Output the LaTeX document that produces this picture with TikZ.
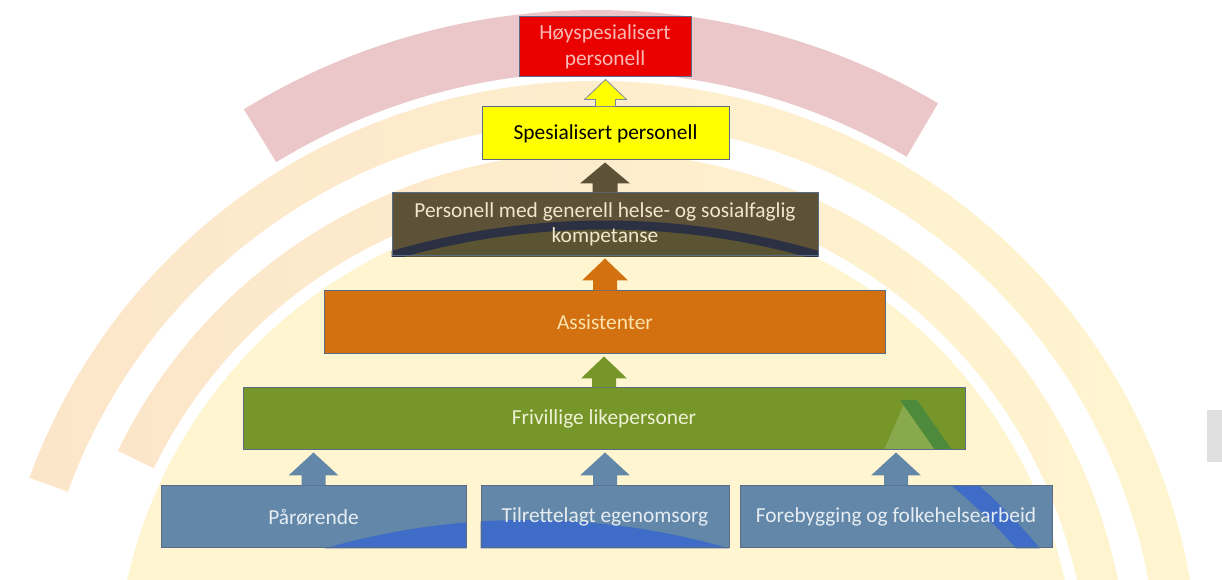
\documentclass[tikz,border=0pt]{standalone}
\usepackage{fontspec}
\setmainfont{Carlito}
\usepackage{tikz}
\usetikzlibrary{calc,backgrounds}
\definecolor{PyrRed}{HTML}{EB0000}
\definecolor{PyrRedText}{HTML}{F7B9B5}
\definecolor{PyrYellow}{HTML}{FFFF00}
\definecolor{PyrDark}{HTML}{5D5138}
\definecolor{PyrDarkLow}{HTML}{5A5433}
\definecolor{PyrDarkText}{HTML}{F1E7CB}
\definecolor{PyrOrange}{HTML}{D3700F}
\definecolor{PyrOrangeText}{HTML}{FBE3AE}
\definecolor{PyrGreen}{HTML}{76962A}
\definecolor{PyrGreenText}{HTML}{EFF1D6}
\definecolor{PyrBlue}{HTML}{6287A9}
\definecolor{PyrBlueText}{HTML}{E6EDF2}
\definecolor{PyrLine}{HTML}{5A6B86}
\definecolor{PyrGrey}{HTML}{E0E0E0}
\definecolor{BowPink}{HTML}{EBC7CA}
\definecolor{BowPeach}{HTML}{FCE6CA}
\definecolor{BowCream}{HTML}{FFF5D0}
\definecolor{BowNavy}{HTML}{2B3142}
\definecolor{BowLeaf}{HTML}{4E8A3B}
\definecolor{BowLime}{HTML}{88AA4C}
\definecolor{BowSky}{HTML}{3E6CC6}

\tikzset{
  tier/.style={draw=PyrLine,line width=1pt,minimum height=62pt,inner sep=2pt,
    align=center,font=\fontsize{21.4}{25.5}\selectfont},
}

% band of the rainbow: options, centre, from, to, inner radius, outer radius
\newcommand\bowband[6]{%
  \path[#1] ([shift={(#3:#6)}]#2) arc[start angle=#3,end angle=#4,radius=#6]
    -- ([shift={(#4:#5)}]#2) arc[start angle=#4,end angle=#3,radius=#5] -- cycle;}

% fat arrow up: options, lower box, upper box, stem half, head half, head length
\newcommand\liftarrow[6]{%
  \path[#1] let \p1=(#2.north), \p2=(#3.south) in
    (\x1-#4pt,\y1) -- (\x1-#4pt,\y2-#6pt-2pt) -- (\x1-#5pt,\y2-#6pt-2pt) -- (\x1,\y2-2pt)
    -- (\x1+#5pt,\y2-#6pt-2pt) -- (\x1+#4pt,\y2-#6pt-2pt) -- (\x1+#4pt,\y1) -- cycle;}

\begin{document}
\begin{tikzpicture}[x=1pt,y=1pt]
  \useasboundingbox (0,0) rectangle (1222,580);

  % the levels
  \node[tier,text=PyrRedText,minimum width=172pt,minimum height=60pt] (hoy) at (605,533) {Høyspesialisert\\personell};
  \node[tier,text=black,minimum width=247pt,minimum height=53pt] (spes) at (605.5,446.5) {Spesialisert personell};
  \node[tier,text=PyrDarkText,minimum width=426pt,minimum height=63pt] (gen) at (605,355.5) {Personell med generell helse- og sosialfaglig\\kompetanse};
  \node[tier,text=PyrOrangeText,minimum width=561pt,minimum height=63pt] (ass) at (605,257.5) {Assistenter};
  \node[tier,text=PyrGreenText,minimum width=722pt] (friv) at (604,161) {Frivillige likepersoner};
  \node[tier,text=PyrBlueText,minimum width=305pt] (paar) at (313.5,63) {Pårørende};
  \node[tier,text=PyrBlueText,minimum width=248pt] (egen) at (605,63) {Tilrettelagt egenomsorg};
  \node[tier,text=PyrBlueText,minimum width=312pt] (fore) at (896,63) {Forebygging og folkehelsearbeid};

  \begin{scope}[on background layer]
    \clip (0,0) rectangle (1222,580);
    % rainbow behind
    \coordinate (bow) at (596,-104);
    \fill[BowCream] (bow) circle[radius=480];
    \bowband{left color=BowPeach,right color=BowCream}{bow}{-5}{154}{492}{532}
    \bowband{left color=BowPeach,right color=BowCream}{bow}{5}{160}{562}{603}
    \bowband{fill=BowPink}{bow}{59.5}{121.5}{612}{674}
    \fill[PyrGrey] (1207,118) rectangle (1222,170);

    % box fills
    \fill[PyrRed] (hoy.south west) rectangle (hoy.north east);
    \fill[PyrYellow] (spes.south west) rectangle (spes.north east);
    \fill[PyrDark] (gen.south west) rectangle (gen.north east);
    \fill[PyrOrange] (ass.south west) rectangle (ass.north east);
    \fill[PyrGreen] (friv.south west) rectangle (friv.north east);
    \foreach \b in {paar,egen,fore}
      \fill[PyrBlue] (\b.south west) rectangle (\b.north east);

    % rainbow seen through the boxes
    \begin{scope}
      \clip (gen.south west) rectangle (gen.north east);
      \coordinate (navy) at (605,-404);
      \fill[PyrDarkLow] (navy) circle[radius=755];
      \draw[BowNavy,line width=9pt] ([shift={(66:759)}]navy) arc[start angle=66,end angle=114,radius=759];
    \end{scope}
    \begin{scope}
      \clip (friv.south west) rectangle (friv.north east);
      \fill[BowLime] (884,130) -- (905,178) -- (935,130) -- cycle;
      \fill[BowLeaf] (900,180) -- (917,180) -- (952,130) -- (935,130) -- cycle;
    \end{scope}
    \begin{scope}
      \clip (paar.south west) rectangle (paar.north east)
            (egen.south west) rectangle (egen.north east)
            (fore.south west) rectangle (fore.north east);
      \coordinate (sky) at (527,-668);
      \coordinate (skyband) at (600,-334);
      \fill[BowSky] (sky) circle[radius=728];
      \draw[BowSky,line width=18pt] ([shift={(30:563)}]skyband) arc[start angle=30,end angle=62,radius=563];
    \end{scope}
  \end{scope}

  % arrows between the levels
  \liftarrow{fill=PyrBlue}{paar}{friv}{12}{25}{23}
  \liftarrow{fill=PyrBlue}{egen}{friv}{12}{25}{23}
  \liftarrow{fill=PyrBlue}{fore}{friv}{12}{25}{23}
  \liftarrow{fill=PyrGreen}{friv}{ass}{12}{23}{22}
  \liftarrow{fill=PyrOrange}{ass}{gen}{12}{23}{22}
  \liftarrow{fill=PyrDark}{gen}{spes}{12.5}{25}{21}
  \liftarrow{fill=PyrYellow,draw=PyrLine!80,line width=0.8pt}{spes}{hoy}{10}{21}{20}
\end{tikzpicture}
\end{document}
